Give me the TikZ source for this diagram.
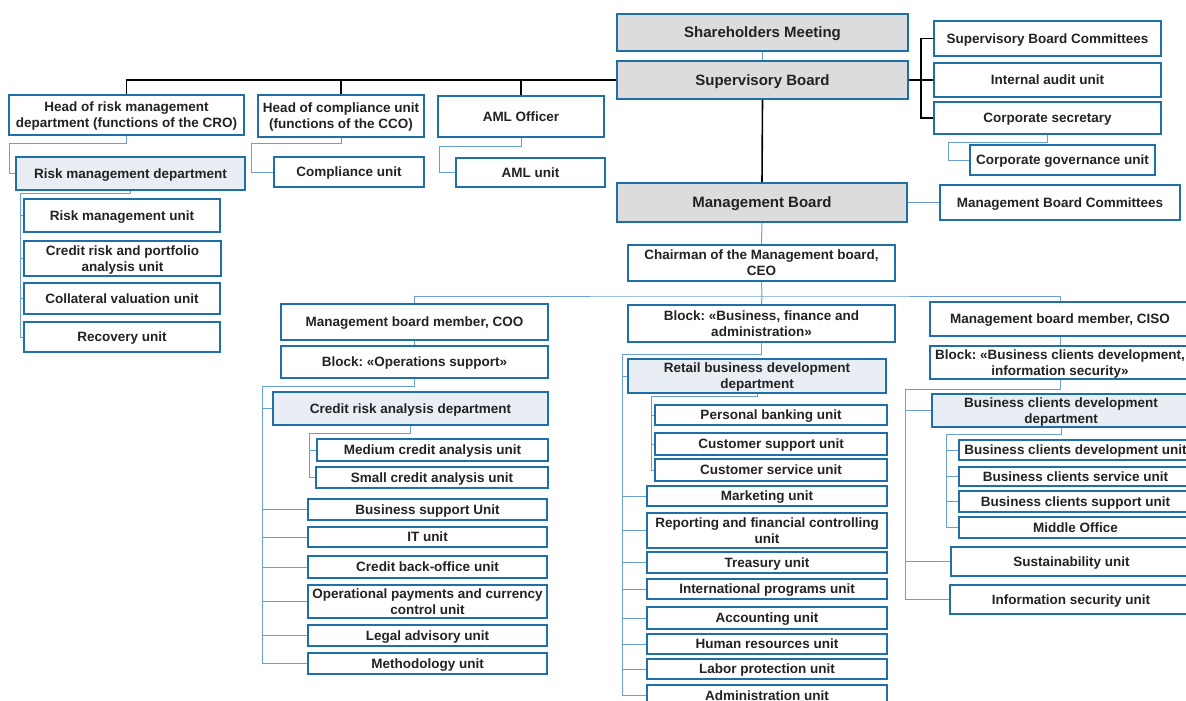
\documentclass[tikz,border=0pt]{standalone}
\usepackage{fontspec}
\setmainfont{Liberation Sans}
\frenchspacing
\definecolor{boxblue}{HTML}{1F6FA8}
\definecolor{linkblue}{HTML}{6A9FD4}
\definecolor{boardgrey}{HTML}{DCDCDC}
\definecolor{deptfill}{HTML}{E9EEF5}
\definecolor{txt}{HTML}{222222}
\tikzset{
	unit/.style={draw=boxblue, line width=2pt, inner sep=0pt, align=center, text=txt, text depth=0pt,
		font=\bfseries\fontsize{13.5}{15.8}\selectfont},
	wh/.style 2 args={minimum width=#1, minimum height=#2},
	board/.style={unit, fill=boardgrey, font=\bfseries\fontsize{15}{17}\selectfont},
	dept/.style={unit, fill=deptfill},
	link/.style={draw=linkblue, line width=1pt},
	blk/.style={draw=black, line width=1.6pt}
}
\begin{document}
\begin{tikzpicture}[x=1pt, y=-1pt]
				\useasboundingbox (0,0) rectangle (1186,701);
				\clip (0,0) rectangle (1186,701);
				% Hội đồng
				\node[board, wh={291}{37}] (shm) at (762.5,32.5) {Shareholders Meeting};
				\node[board, wh={291}{38}] (sb) at (762.5,80) {Supervisory Board};
				\node[board, wh={290}{39}] (mb) at (762,202.5) {Management Board};
				\node[unit, wh={227}{35}] (sbc) at (1047.5,38.5) {Supervisory Board Committees};
				\node[unit, wh={227}{34}] (iau) at (1047.5,80) {Internal audit unit};
				\node[unit, wh={227}{32}] (csec) at (1047.5,118) {Corporate secretary};
				\node[unit, wh={185}{30}] (cgu) at (1062.5,160) {Corporate governance unit};
				\node[unit, wh={240}{35}] (mbc) at (1060,202.5) {Management Board Committees};
				% Bên trái
				\node[unit, wh={235}{40}] (cro) at (126.5,115) {Head of risk management\\department (functions of the CRO)};
				\node[unit, wh={166}{42}] (cco) at (341,116) {Head of compliance unit\\(functions of the CCO)};
				\node[unit, wh={166}{41}] (amlo) at (521,116.5) {AML Officer};
				\node[dept, wh={229}{33}] (rmd) at (130.5,173.5) {Risk management department};
				\node[unit, wh={150}{30}] (cmp) at (349,172) {Compliance unit};
				\node[unit, wh={149}{29}] (amlu) at (530.5,172.5) {AML unit};
				\node[unit, wh={196}{33}] (rmu) at (122,215.5) {Risk management unit};
				\node[unit, wh={197}{35}] (crp) at (122.5,258.5) {Credit risk and portfolio\\analysis unit};
				\node[unit, wh={196}{31}] (colv) at (122,298.5) {Collateral valuation unit};
				\node[unit, wh={196}{30}] (recu) at (122,337) {Recovery unit};
				% Ban điều hành
				\node[unit, wh={267}{36}] (chair) at (761.5,263) {Chairman of the Management board,\\CEO};
				\node[unit, wh={267}{36}] (coo) at (414.5,322) {Management board member, COO};
				\node[unit, wh={267}{32}] (obl) at (414.5,362) {Block: «Operations support»};
				\node[dept, wh={275}{33}] (crd) at (410.5,408.5) {Credit risk analysis department};
				\node[unit, wh={231}{22}] (mca) at (432.5,450) {Medium credit analysis unit};
				\node[unit, wh={232}{21}] (sca) at (432,477.5) {Small credit analysis unit};
				\foreach \n/\y/\h/\t in {bsu/509.5/21/Business support Unit, itu/537/20/IT unit,
						cbo/567/22/Credit back-office unit,
						opc/601.5/33/{Operational payments and currency\\control unit},
						leg/635.5/21/Legal advisory unit, meth/663.5/21/Methodology unit} {
					\node[unit, wh={239}{\h}] (\n) at (427.5,\y) {\t};
				}
				\node[unit, wh={267}{37}] (bfa) at (761.5,323.5) {Block: «Business, finance and\\administration»};
				\node[dept, wh={258}{34}] (rbd) at (757,376) {Retail business development\\department};
				\foreach \n/\y/\h/\t in {pb/415/20/Personal banking unit, cs/444/22/Customer support unit,
						csv/470/22/Customer service unit} {
					\node[unit, wh={232}{\h}] (\n) at (771,\y) {\t};
				}
				\foreach \n/\y/\h/\t in {mkt/496/20/Marketing unit,
						rep/530.5/35/{Reporting and financial controlling\\unit},
						trs/562.5/21/Treasury unit, intl/589/20/International programs unit,
						acc/618/22/Accounting unit, hr/644/20/Human resources unit,
						lab/669/20/Labor protection unit, adm/695.5/21/Administration unit} {
					\node[unit, wh={240}{\h}] (\n) at (767,\y) {\t};
				}
				\node[unit, wh={260}{34}] (ciso) at (1060,319) {Management board member, CISO};
				\node[unit, wh={260}{33}] (cbl) at (1060,362.5) {Block: «Business clients development,\\information security»};
				\node[dept, wh={258}{33}] (bcdd) at (1061,410.5) {Business clients development\\department};
				\foreach \n/\y/\h/\t in {bcd/450/20/Business clients development unit,
						bcs/476.5/19/Business clients service unit,
						bcsp/501.5/21/Business clients support unit, mo/527.5/21/Middle Office} {
					\node[unit, wh={233}{\h}] (\n) at (1075.5,\y) {\t};
				}
				\node[unit, wh={241}{29}] (sust) at (1071.5,561.5) {Sustainability unit};
				\node[unit, wh={242}{29}] (isec) at (1071,599.5) {Information security unit};
				% Đường nối
				\coordinate (sbr) at (921,80);
				\coordinate (mbus) at (762,296);
				\draw[blk] (sb.west) -| (cro.north);
				\draw[blk] (cco.north |- sb.west) -- (cco.north);
				\draw[blk] (amlo.north |- sb.west) -- (amlo.north);
				\draw[blk] (sb.east) -- (sbr);
				\draw[blk] (sbc.west) -| (sbr) |- (csec.west);
				\draw[blk] (sbr) -- (iau.west);
				\draw[blk] (sb.south) -- (mb.north);
				\draw[link] (shm.south) -- (sb.north);
				\draw[link] (mb.east) -- (mbc.west);
				\draw[link] (mb.south) -- (chair.north);
				\draw[link] (chair.south) -- (mbus);
				\draw[link] (coo.north) |- (mbus) -| (ciso.north);
				\draw[link] (mbus) -- (bfa.north);
				\draw[link] (coo.south) -- (obl.north);
				\draw[link] (ciso.south) -- (cbl.north);
				\draw[link] (csec.south) |- (948,142) |- (cgu.west);
				\draw[link] (cro.south) |- (9,143) |- (rmd.west);
				\draw[link] (cco.south) |- (251,143) |- (cmp.west);
				\draw[link] (amlo.south) |- (439,146) |- (amlu.west);
				% Nhánh con
				\foreach \p/\bx/\by/\last/\rest in {rmd/20/193/recu/{rmu,crp,colv},
						obl/262/386/meth/{crd,bsu,itu,cbo,opc,leg}, crd/309/433/sca/{mca},
						bfa/622/354/adm/{rbd,mkt,rep,trs,intl,acc,hr,lab}, rbd/651/396/csv/{pb,cs},
						cbl/905/389/isec/{bcdd,sust}, bcdd/946/434/mo/{bcd,bcs,bcsp}} {
					\draw[link] (\p.south) |- (\bx,\by) |- (\last.west);
					\foreach \c in \rest {
						\draw[link] (\c.west -| \bx,0) -- (\c.west);
					}
				}
\end{tikzpicture}
\end{document}
